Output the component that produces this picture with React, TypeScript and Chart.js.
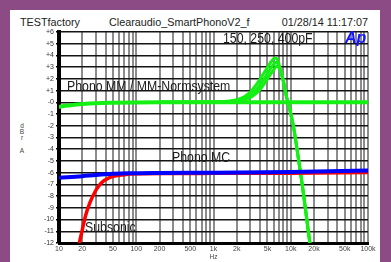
import React, { useEffect, useRef } from 'react';
import { Chart, registerables } from 'chart.js';

Chart.register(...registerables);

// ---- axis ticks ----
const gridFreqs = [
  10, 20, 30, 40, 50, 60, 70, 80, 90,
  100, 200, 300, 400, 500, 600, 700, 800, 900,
  1000, 2000, 3000, 4000, 5000, 6000, 7000, 8000, 9000,
  10000, 20000, 30000, 40000, 50000, 60000, 70000, 80000, 90000,
  100000,
];
const labeledFreqs = [10, 20, 50, 100, 200, 500, 1000, 2000, 5000, 10000, 20000, 50000, 100000];
const freqLabels = ['10', '20', '50', '100', '200', '500', '1k', '2k', '5k', '10k', '20k', '50k', '100k'];
const yTicks = [6, 5, 4, 3, 2, 1, 0, -1, -2, -3, -4, -5, -6, -7, -8, -9, -10, -11, -12];
const yTickLabels = ['+6', '+5', '+4', '+3', '+2', '+1', '-0', '-1', '-2', '-3', '-4', '-5', '-6', '-7', '-8', '-9', '-10', '-11', '-12'];

// ---- series ----
const mmFlatFreq = [10, 12, 15, 20, 30, 50, 100, 200, 1000, 10000, 100000];
const mmFlatDb = [-0.38, -0.3, -0.22, -0.15, -0.08, -0.04, -0.01, 0, 0, 0, 0];

const mmPeakFreq = [200, 1000, 1500, 2000, 2500, 3000, 3500, 4000, 5000, 5600, 6200, 6600, 7200, 8000, 8800, 9700, 10800, 12500, 14000, 16000, 18000, 20000];
const mm150Db = [0, 0.02, 0.09, 0.22, 0.48, 0.88, 1.42, 1.98, 2.98, 3.48, 3.78, 3.72, 3.0, 1.85, 0.5, -0.6, -2.0, -4.7, -6.9, -9.8, -12.4, -14.6];
const mm250Db = [0, 0.01, 0.06, 0.15, 0.33, 0.62, 1.02, 1.5, 2.45, 2.98, 3.35, 3.42, 2.95, 1.85, 0.5, -0.6, -2.0, -4.7, -6.9, -9.8, -12.4, -14.6];
const mm400Db = [0, 0.01, 0.03, 0.09, 0.21, 0.42, 0.72, 1.1, 2.0, 2.5, 2.9, 3.1, 2.85, 1.8, 0.5, -0.6, -2.0, -4.7, -6.9, -9.8, -12.4, -14.6];

const mcFreq = [10, 20, 30, 50, 80, 200, 1000, 10000, 100000];
const mcDb = [-6.43, -6.3, -6.2, -6.1, -6.05, -6.02, -6.0, -5.94, -5.82];

const subFreq = [16, 18, 20, 22, 25, 30, 35, 45, 70, 100, 300, 1000, 10000, 100000];
const subDb = [-14.5, -12.3, -10.9, -9.7, -8.6, -7.5, -6.9, -6.42, -6.17, -6.1, -6.07, -6.06, -6.04, -5.98];

const PURPLE = '#8d4b85';
const GREEN = '#14f014';

const toXY = (fs: number[], ds: number[]) => fs.map((f, i) => ({ x: f, y: ds[i] }));

const drawNarrow = (c: CanvasRenderingContext2D, text: string, x: number, y: number, size: number, sx: number) => {
  c.save();
  c.translate(x, y);
  c.scale(sx, 1);
  c.font = `${size}px "Liberation Sans", Arial, sans-serif`;
  c.fillText(text, 0, 0);
  c.restore();
};

const annotations = {
  id: 'annotations',
  afterDatasetsDraw(chart: any) {
    const c = chart.ctx as CanvasRenderingContext2D;
    c.save();
    c.textBaseline = 'alphabetic';
    c.textAlign = 'left';
    c.fillStyle = '#1c1c1c';
    drawNarrow(c, '150, 250, 400pF', 223, 43, 15, 0.82);
    drawNarrow(c, 'Phono MM / MM-Normsystem', 67, 91, 15, 0.82);
    drawNarrow(c, 'Phono MC', 172, 161.5, 15, 0.82);
    drawNarrow(c, 'Subsonic', 85, 231.5, 15, 0.82);
    c.fillStyle = '#1414ff';
    c.font = 'italic bold 16px "Liberation Sans", Arial, sans-serif';
    c.fillText('Ap', 345, 43);
    c.restore();
  },
};

export default function App() {
  const ref = useRef<HTMLCanvasElement>(null);

  useEffect(() => {
    const canvas = ref.current;
    if (!canvas) return;
    const green = (label: string, data: any, width: number) => ({
      label,
      data,
      borderColor: GREEN,
      borderWidth: width,
      order: 2,
    });
    const chart = new Chart(canvas, {
      type: 'line',
      data: {
        datasets: [
          { label: 'Phono MC', data: toXY(mcFreq, mcDb), borderColor: '#0000ff', borderWidth: 4, order: 0 },
          { label: 'Subsonic', data: toXY(subFreq, subDb), borderColor: '#ff0000', borderWidth: 3.5, order: 1 },
          green('MM-Normsystem', toXY(mmFlatFreq, mmFlatDb), 4),
          green('150pF', toXY(mmPeakFreq, mm150Db), 3),
          green('250pF', toXY(mmPeakFreq, mm250Db), 3),
          green('400pF', toXY(mmPeakFreq, mm400Db), 3),
        ] as any,
      },
      options: {
        animation: false,
        responsive: false,
        maintainAspectRatio: false,
        layout: { padding: { left: 10, right: 23, top: 32, bottom: 0 } },
        plugins: { legend: { display: false }, tooltip: { enabled: false }, title: { display: false } },
        elements: {
          point: { radius: 0 },
          line: { cubicInterpolationMode: 'monotone', borderCapStyle: 'round', borderJoinStyle: 'round' },
        },
        scales: {
          x: {
            type: 'logarithmic',
            min: 10,
            max: 100000,
            afterBuildTicks: (s: any) => {
              s.ticks = gridFreqs.map((v) => ({ value: v }));
            },
            afterFit: (s: any) => {
              s.height = 19;
            },
            grid: { color: '#8c8c8c', lineWidth: 2, drawTicks: false },
            border: { color: '#000', width: 3 },
            ticks: {
              autoSkip: false,
              maxRotation: 0,
              minRotation: 0,
              padding: 2,
              color: '#444',
              font: { family: '"Liberation Sans", Arial, sans-serif', size: 7 },
              callback: (v: any) => {
                const i = labeledFreqs.indexOf(Number(v));
                return i >= 0 ? freqLabels[i] : '';
              },
            },
            title: {
              display: true,
              text: 'Hz',
              color: '#444',
              padding: { top: 0, bottom: 1 },
              font: { family: '"Liberation Sans", Arial, sans-serif', size: 6.5 },
            },
          },
          y: {
            min: -12,
            max: 6,
            afterBuildTicks: (s: any) => {
              s.ticks = yTicks.map((v) => ({ value: v }));
            },
            afterFit: (s: any) => {
              s.width = 49;
            },
            grid: { color: '#141414', lineWidth: 1.5, tickLength: 3, tickColor: '#000' },
            border: { color: '#000', width: 4 },
            ticks: {
              padding: 2,
              color: '#333',
              font: { family: '"Liberation Sans", Arial, sans-serif', size: 7 },
              callback: (v: any) => {
                const i = yTicks.indexOf(Number(v));
                return i >= 0 ? yTickLabels[i] : '';
              },
            },
          },
        },
      } as any,
      plugins: [annotations],
    });
    return () => chart.destroy();
  }, []);

  const headerFont: React.CSSProperties = {
    position: 'absolute',
    top: 16,
    lineHeight: '12px',
    fontSize: 10.8,
    color: '#222',
    whiteSpace: 'nowrap',
  };
  const yTitle = [
    { ch: 'd', y: 125 },
    { ch: 'B', y: 131 },
    { ch: 'r', y: 136.5 },
    { ch: 'A', y: 150 },
  ];

  return (
    <div
      style={{
        position: 'absolute',
        left: 0,
        top: 0,
        width: 391,
        height: 262,
        background: PURPLE,
        overflow: 'hidden',
        fontFamily: '"Liberation Sans", Arial, sans-serif',
      }}
    >
      <div style={{ position: 'absolute', left: 10, top: 10, width: 370, height: 252, background: '#fff' }} />
      <span style={{ ...headerFont, left: 20 }}>TESTfactory</span>
      <span style={{ ...headerFont, left: 109 }}>Clearaudio_SmartPhonoV2_f</span>
      <span style={{ ...headerFont, right: 23 }}>01/28/14 11:17:07</span>
      {yTitle.map((t) => (
        <span
          key={t.ch}
          style={{
            position: 'absolute',
            left: 22,
            top: t.y,
            transform: 'translate(-50%, -50%)',
            fontSize: 6.5,
            lineHeight: '7px',
            color: '#444',
          }}
        >
          {t.ch}
        </span>
      ))}
      <canvas ref={ref} width={391} height={262} style={{ position: 'absolute', left: 0, top: 0, width: 391, height: 262 }} />
    </div>
  );
}
